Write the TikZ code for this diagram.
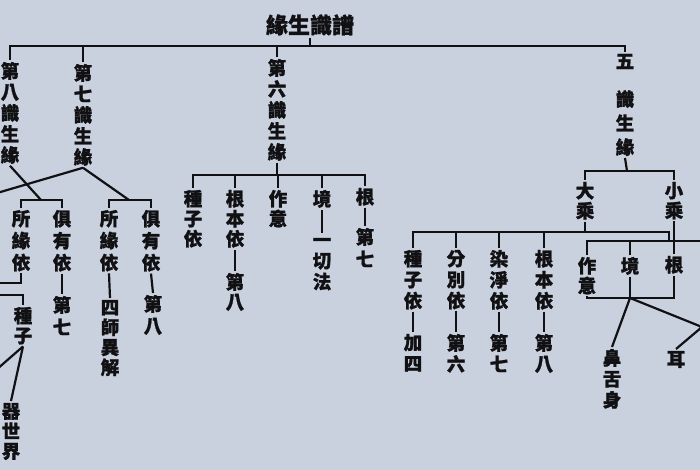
\documentclass[tikz,border=0pt]{standalone}
\usepackage{fontspec}
\usepackage{tikz}
\usetikzlibrary{calc}
\newfontfamily\zhfont{Noto Sans CJK TC}[BoldFeatures={FakeBold=1.2}]
\definecolor[named]{PaperGrey}{RGB}{201,209,223}
\definecolor[named]{InkBlack}{RGB}{17,17,20}
\tikzset{
  zi/.style={
    font=\zhfont\bfseries\fontsize{18.5}{21}\selectfont,
    text=InkBlack,
    align=center,
    inner sep=0pt,
    outer sep=2pt,
    anchor=north
  },
  zishort/.style={zi,font=\zhfont\bfseries\fontsize{18.5}{20}\selectfont},
  ziwide/.style={zi,font=\zhfont\bfseries\fontsize{18.5}{22}\selectfont},
  zitall/.style={zi,font=\zhfont\bfseries\fontsize{18.5}{24}\selectfont},
  titlezi/.style={zi,anchor=center,font=\zhfont\bfseries\fontsize{22}{22}\selectfont},
  branch/.style={draw=InkBlack,line width=2.2pt}
}

\begin{document}
\begin{tikzpicture}[x=1pt,y=-1pt]

    % Paper
    \fill[PaperGrey] (0,0) rectangle (700,470);
    \useasboundingbox (0,0) rectangle (700,470);
    \clip (0,0) rectangle (700,470);

    % Coordinates
    \path (310,46) coordinate (bar)
      (41,200) coordinate (j8) (129,200) coordinate (j7)
      (277,175) coordinate (j6) (627,171) coordinate (j5)
      (585,232) coordinate (jd) (669,241) coordinate (jm)
      (630,298) coordinate (jb) (702,327) coordinate (je)
      (712,241) coordinate (jr) (-20,198) coordinate (k7l)
      (-10,283) coordinate (l1) (-10,295) coordinate (l2)
      (-12,377) coordinate (l3)
      ;

    % Title
    \node[titlezi] (title) at (310,25) {緣生識譜};

    % Columns
    \node[zi] (k8) at (10,60) {第\\八\\識\\生\\緣};
    \node[zi] (k7) at (83,62) {第\\七\\識\\生\\緣};
    \node[zi] (k6) at (277,57) {第\\六\\識\\生\\緣};
    \node[zitall] (k5) at (625,52) {五\\[14pt]識\\生\\緣};

    % Eighth and seventh
    \node[ziwide] (a8s) at (21,208) {所\\緣\\依};
    \node[ziwide] (a8j) at (62,208) {俱\\有\\依};
    \node[ziwide] (a8j2) at (62,294) {第\\七};
    \node[zishort] (zz) at (23,305) {種\\子};
    \node[zishort] (qs) at (11,401) {器\\世\\界};
    \node[ziwide] (a7s) at (109,208) {所\\緣\\依};
    \node[zishort] (a7s2) at (110,298) {四\\師\\異\\解};
    \node[ziwide] (a7j) at (151,208) {俱\\有\\依};
    \node[ziwide] (a7j2) at (153,293) {第\\八};

    % Sixth
    \node[zishort] (b1) at (193,188) {種\\子\\依};
    \node[zishort] (b2) at (235,188) {根\\本\\依};
    \node[zishort] (b2x) at (235,271) {第\\八};
    \node[zishort] (b3) at (278,188) {作\\意};
    \node[zi] (b4) at (322,188) {境};
    \node[zi] (b4x) at (322,236) {一\\切\\法};
    \node[zi] (b5) at (365,186) {根};
    \node[ziwide] (b5x) at (365,226) {第\\七};

    % Five
    \node[zishort] (dch) at (585,180) {大\\乘};
    \node[zishort] (xch) at (674,180) {小\\乘};
    \node[zi] (c1) at (413,248) {種\\子\\依};
    \node[zi] (c2) at (456,248) {分\\別\\依};
    \node[zi] (c3) at (499,248) {染\\淨\\依};
    \node[zi] (c4) at (544,248) {根\\本\\依};
    \node[zi] (c1x) at (413,332) {加\\四};
    \node[zi] (c2x) at (456,332) {第\\六};
    \node[zi] (c3x) at (499,332) {第\\七};
    \node[zi] (c4x) at (544,332) {第\\八};
    \node[zishort] (e1) at (587,255) {作\\意};
    \node[zi] (e2) at (630,255) {境};
    \node[zi] (e3) at (674,254) {根};
    \node[zi] (f1) at (612,347) {鼻\\舌\\身};
    \node[zi] (f2) at (676,349) {耳};

    % Branches
    \begin{scope}[branch]
      \draw (title.south) -- (title.south |- bar);
      \draw (k8.north) |- (bar) -| (k5.north);
      \draw (k7.north |- bar) -- (k7.north);
      \draw (k6.north |- bar) -- (k6.north);

      % Eighth and seventh
      \draw (k8.south) -- (j8);
      \draw (k7.south) -- (k7l);
      \draw (k7.south) -- (j7);
      \draw (a8s.north) |- (j8) -| (a8j.north);
      \draw (a7s.north) |- (j7) -| (a7j.north);
      \draw (a8j.south) -- (a8j2.north);
      \draw (a7s.south) -- (a7s2.north);
      \draw (a7j.south) -- (a7j2.north);
      \draw (a8s.south) |- (l1);
      \draw (l2) -| (zz.north);
      \draw (zz.south) -- (l3);
      \draw (zz.south) -- (qs.north);

      % Sixth
      \draw (k6.south) -- (j6);
      \draw (b1.north) |- (j6) -| (b5.north);
      \foreach \n in {b2,b3,b4}
        \draw (\n.north) -- (\n.north |- j6);
      \draw (b2.south) -- (b2x.north);
      \draw[shorten >=3pt] (b4.south) -- (b4x.north);
      \draw (b5.south) -- (b5x.north);

      % Five
      \draw (k5.south) -- (j5);
      \draw (dch.north) |- (j5) -| (xch.north);
      \draw (dch.south) -- (jd);
      \draw (c1.north) |- (jd) -| (jm);
      \foreach \n in {c2,c3,c4}
        \draw (\n.north) -- (\n.north |- jd);
      \foreach \n in {c1,c2,c3,c4}
        \draw (\n.south) -- (\n x.north);
      \draw (e1.north) |- (jm) -- (jr);
      \draw (e2.north) -- (e2.north |- jm);
      \draw (xch.south) -- (e3.north);
      \draw (e1.south) |- (jb) -| (e3.south);
      \draw (e2.south) -- (jb);
      \draw (jb) -- (f1.north);
      \draw (jb) -- (je) -- (f2.north);
    \end{scope}

\end{tikzpicture}
\end{document}
